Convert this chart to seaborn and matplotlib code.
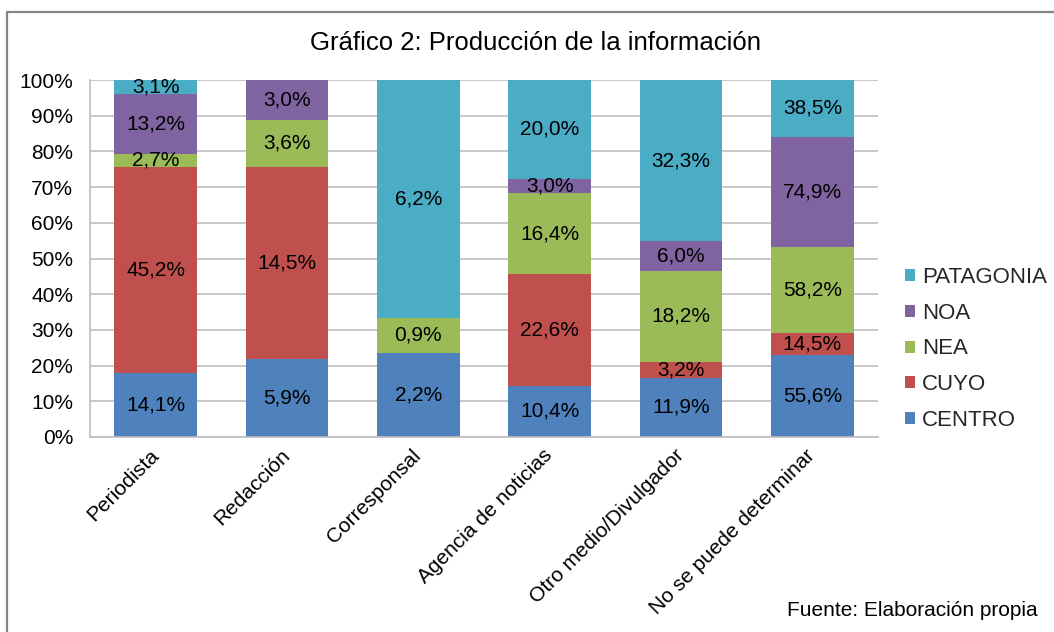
import matplotlib
matplotlib.use("Agg")
import matplotlib.pyplot as plt
from matplotlib.lines import Line2D
from matplotlib.patches import Patch
import numpy as np
import pandas as pd
import seaborn as sns

# --- data -------------------------------------------------------------
categorias = ["Periodista", "Redacción", "Corresponsal", "Agencia de noticias",
              "Otro medio/Divulgador", "No se puede determinar"]
regiones = ["CENTRO", "CUYO", "NEA", "NOA", "PATAGONIA"]
centro = [14.1, 5.9, 2.2, 10.4, 11.9, 55.6]
cuyo = [45.2, 14.5, 0.0, 22.6, 3.2, 14.5]
nea = [2.7, 3.6, 0.9, 16.4, 18.2, 58.2]
noa = [13.2, 3.0, 0.0, 3.0, 6.0, 74.9]
patagonia = [3.1, 0.0, 6.2, 20.0, 32.3, 38.5]
colores = ["#4F81BD", "#C0504D", "#9BBB59", "#8064A2", "#4BACC6"]

valores = dict(zip(regiones, [centro, cuyo, nea, noa, patagonia]))

# long table: each segment is its share of the category total (100% stacked)
rows = []
for i, cat in enumerate(categorias):
    total = sum(valores[r][i] for r in regiones)
    acum = 0.0
    for r in regiones:
        v = valores[r][i]
        share = v / total * 100
        acum += share
        rows.append({"categoria": cat, "region": r, "valor": v,
                     "share": share, "acum": acum})
df = pd.DataFrame(rows)

# --- figure -----------------------------------------------------------
sns.set_theme(style="white")
plt.rcParams["font.family"] = ["Liberation Sans", "DejaVu Sans"]

fig = plt.figure(figsize=(10.54, 6.32), dpi=100)
ax = fig.add_axes([90 / 1054, 1 - 437 / 632, 788 / 1054, 357 / 632])

# stacked bars: draw cumulative totals from the top segment down
for r, c in reversed(list(zip(regiones, colores))):
    sub = df[df["region"] == r]
    sns.barplot(data=sub, x="categoria", y="acum", order=categorias,
                color=c, saturation=1, width=0.63, errorbar=None,
                linewidth=0, ax=ax, zorder=2)

# segment labels
for _, row in df.iterrows():
    if row["valor"] > 0:
        i = categorias.index(row["categoria"])
        txt = f"{row['valor']:.1f}".replace(".", ",") + "%"
        ax.text(i, row["acum"] - row["share"] / 2, txt, ha="center",
                va="center", fontsize=15, color="#000000", zorder=3)

ax.set_xlim(-0.5, len(categorias) - 0.5)
ax.set_ylim(0, 100)
ax.set_yticks(np.arange(0, 101, 10))
ax.set_yticklabels([f"{t}%" for t in range(0, 101, 10)])
ax.set_xlabel("")
ax.set_ylabel("")
ax.yaxis.grid(True, color="#BFBFBF", linewidth=1.2, zorder=0)
ax.set_axisbelow(True)
for s in ["top", "right"]:
    ax.spines[s].set_visible(False)
for s in ["left", "bottom"]:
    ax.spines[s].set_color("#BFBFBF")
    ax.spines[s].set_linewidth(1.2)
ax.tick_params(axis="y", length=0, pad=12, labelsize=15, colors="#000000")
ax.tick_params(axis="x", length=0, pad=11, labelsize=15, colors="#000000")
plt.setp(ax.get_xticklabels(), rotation=45, ha="right", va="center",
         rotation_mode="anchor")

# legend (top entry = last stacked region)
handles = [Patch(facecolor=c, edgecolor="none") for c in colores][::-1]
ax.legend(handles, regiones[::-1], loc="center left",
          bbox_to_anchor=(905 / 1054, 1 - 349 / 632),
          bbox_transform=fig.transFigure, frameon=False, fontsize=16,
          handlelength=0.45, handleheight=0.45, handletextpad=0.3,
          labelspacing=0.67, borderpad=0, borderaxespad=0)

fig.text(535 / 1054, 1 - 43 / 632, "Gráfico 2: Producción de la información",
         ha="center", va="center", fontsize=18.5, color="#000000")
fig.text(1038 / 1054, 1 - 611 / 632, "Fuente: Elaboración propia",
         ha="right", va="center", fontsize=15, color="#000000")

# chart frame
frame = dict(color="#868686", linewidth=1.6, transform=fig.transFigure)
fig.add_artist(Line2D([7 / 1054, 1.0], [1 - 12 / 632] * 2, **frame))
fig.add_artist(Line2D([7 / 1054] * 2, [1 - 12 / 632, 0.0], **frame))

fig.savefig("out.png", dpi=100, facecolor="white")
